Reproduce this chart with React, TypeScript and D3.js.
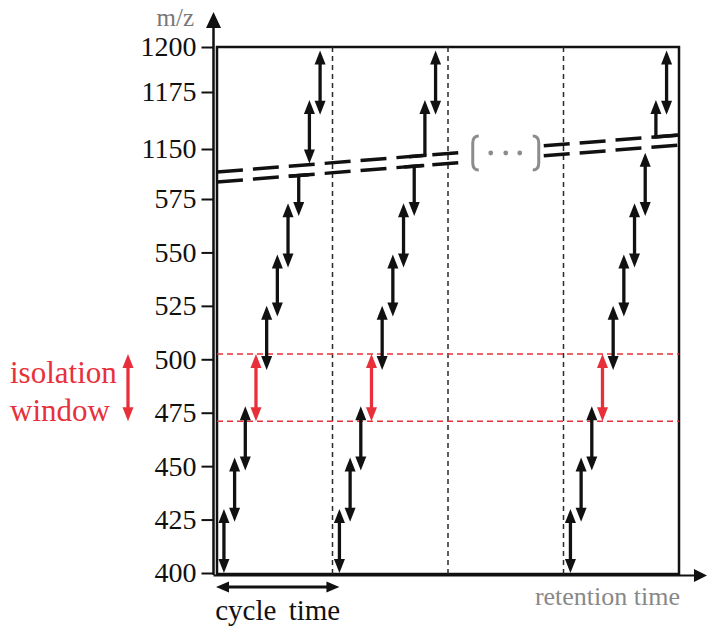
import * as d3 from "d3";
import React, { useEffect, useRef } from "react";

// y axis ticks (m/z), with a break between 575 and 1150
const yTicks = [400, 425, 450, 475, 500, 525, 550, 575, 1150, 1175, 1200];

// cycles shown (in cycle-time units); the third slot is left out ( … )
const cycleStarts = [0, 1, 3];
const cycleLines = [1, 2, 3];

// isolation windows below the break, m/z (last one runs up into the break)
const lowLo = [400, 424, 448, 471, 495, 520, 543, 567];
const lowHi = [430, 454, 478, 502.5, 525, 549, 573, null];
// windows above the break (first one starts at the break)
const highLo = [null, 1165];
const highHi = [1171.5, 1198];
const redIndex = 3;

// how each cycle's arrows meet the break
const breakTop = ["flat", "flat", "head"];
const breakBottom = ["head", "left", "right"];

export default function App() {
  const svgRef = useRef(null);

  useEffect(() => {
    const svg = d3.select(svgRef.current);
    svg.selectAll("*").remove();

    const serif = "'Liberation Serif', 'Times New Roman', serif";
    const red = "#e8303a";
    const ink = "#111";

    // scales
    const x = d3.scaleLinear().domain([0, 4]).range([217, 679]);
    const y = d3
      .scaleLinear()
      .domain([400, 575, 1150, 1175, 1200])
      .range([573, 199, 149, 92, 47]);

    const x0 = x(0);
    const x1 = x(4);
    const yTop = y(1200);
    const yBot = y(400) + 1;
    const step = 0.0925; // time between two windows
    const offset = 0.06;

    // axis break lines (slanted)
    const slope = -37 / (x1 - x0);
    const breakY = (px, off) => 172 + off + slope * (px - x0);

    const g = svg.append("g");

    // frame
    g.append("rect")
      .attr("x", x0)
      .attr("y", yTop)
      .attr("width", x1 - x0)
      .attr("height", yBot - yTop)
      .attr("fill", "none")
      .attr("stroke", ink)
      .attr("stroke-width", 2.5);

    // y axis with arrow
    const ax = x0 - 3.5;
    g.append("line")
      .attr("x1", ax)
      .attr("x2", ax)
      .attr("y1", yBot + 1)
      .attr("y2", 24)
      .attr("stroke", ink)
      .attr("stroke-width", 2.5);
    g.append("path")
      .attr("d", `M${ax},12L${ax - 7.5},28L${ax + 7.5},28Z`)
      .attr("fill", ink);

    // x axis with arrow
    g.append("line")
      .attr("x1", ax)
      .attr("x2", 698)
      .attr("y1", yBot + 1.5)
      .attr("y2", yBot + 1.5)
      .attr("stroke", ink)
      .attr("stroke-width", 1.8);
    g.append("path")
      .attr("d", `M707,${yBot + 1.5}L694,${yBot - 5}L694,${yBot + 8}Z`)
      .attr("fill", ink);

    const yAxis = d3
      .axisLeft(y)
      .tickValues(yTicks)
      .tickSize(12)
      .tickPadding(5)
      .tickFormat(d3.format("d"));
    const yAxisG = g.append("g").attr("transform", `translate(${ax},0)`).call(yAxis);
    yAxisG.select(".domain").remove();
    yAxisG.selectAll(".tick line").attr("stroke", ink).attr("stroke-width", 2);
    yAxisG
      .selectAll(".tick text")
      .attr("fill", ink)
      .style("font-family", serif)
      .style("font-size", "28px");

    // cycle boundaries
    cycleLines.forEach((c) => {
      g.append("line")
        .attr("x1", x(c))
        .attr("x2", x(c))
        .attr("y1", yTop)
        .attr("y2", yBot)
        .attr("stroke", "#2a2a2a")
        .attr("stroke-width", 1.5)
        .attr("stroke-dasharray", "5,4");
    });

    // isolation window guides
    [lowLo[redIndex], lowHi[redIndex]].forEach((v) => {
      g.append("line")
        .attr("x1", x0)
        .attr("x2", x1)
        .attr("y1", y(v))
        .attr("y2", y(v))
        .attr("stroke", red)
        .attr("stroke-width", 1.4)
        .attr("stroke-dasharray", "6,4");
    });

    // break lines, interrupted by the ( … ) mark
    const bx = x(2.5);
    const by = 153;
    [0, 10].forEach((off) => {
      [
        [x0, bx - 43],
        [bx + 38, x1],
      ].forEach(([a, b]) => {
        g.append("line")
          .attr("x1", a)
          .attr("x2", b)
          .attr("y1", breakY(a, off))
          .attr("y2", breakY(b, off))
          .attr("stroke", ink)
          .attr("stroke-width", 3.5)
          .attr("stroke-dasharray", "26,10");
      });
    });

    const gray = "#8c8c8c";
    [-1, 1].forEach((s) => {
      const px = bx + s * 33;
      g.append("path")
        .attr(
          "d",
          `M${px - s * 6},${by - 17}Q${px},${by - 17} ${px},${by - 10}L${px},${by + 10}Q${px},${by + 17} ${px - s * 6},${by + 17}`
        )
        .attr("fill", "none")
        .attr("stroke", gray)
        .attr("stroke-width", 3);
    });
    [-15, 0, 14].forEach((d) => {
      g.append("circle").attr("cx", bx + d).attr("cy", by).attr("r", 2.4).attr("fill", gray);
    });

    // vertical double arrow
    const hl = 14;
    const hw = 5.5;
    const vArrow = (px, ya, yb, headA, headB, color) => {
      g.append("line")
        .attr("x1", px)
        .attr("x2", px)
        .attr("y1", headA ? ya + hl - 2 : ya)
        .attr("y2", headB ? yb - hl + 2 : yb)
        .attr("stroke", color)
        .attr("stroke-width", 3.3);
      if (headA)
        g.append("path")
          .attr("d", `M${px},${ya}L${px - hw},${ya + hl}L${px + hw},${ya + hl}Z`)
          .attr("fill", color);
      if (headB)
        g.append("path")
          .attr("d", `M${px},${yb}L${px - hw},${yb - hl}L${px + hw},${yb - hl}Z`)
          .attr("fill", color);
    };
    const connector = (xa, xb, off) => {
      g.append("line")
        .attr("x1", xa)
        .attr("x2", xb)
        .attr("y1", breakY(xa, off))
        .attr("y2", breakY(xb, off))
        .attr("stroke", ink)
        .attr("stroke-width", 3.5);
    };

    cycleStarts.forEach((c, ci) => {
      lowLo.forEach((lo, j) => {
        const px = x(c + offset + j * step);
        const color = j === redIndex ? red : ink;
        const hi = lowHi[j];
        if (hi !== null) {
          vArrow(px, y(hi), y(lo), true, true, color);
        } else if (breakTop[ci] === "head") {
          vArrow(px, breakY(px, 10) + 5, y(lo), true, true, color);
        } else {
          vArrow(px, breakY(px, 10), y(lo), false, true, color);
          connector(px - 10, px + 10, 10);
        }
      });
      highHi.forEach((hi, k) => {
        const px = x(c + offset + (lowLo.length + k) * step);
        const lo = highLo[k];
        if (lo !== null) {
          vArrow(px, y(hi), y(lo), true, true, ink);
        } else if (breakBottom[ci] === "head") {
          vArrow(px, y(hi), breakY(px, 0) - 1, true, true, ink);
        } else {
          vArrow(px, y(hi), breakY(px, 0), true, false, ink);
          if (breakBottom[ci] === "left") connector(px - 16, px + 1.6, 0);
          else connector(px - 1.6, x1, 0);
        }
      });
    });

    // isolation window legend
    vArrow(128, y(lowHi[redIndex]), y(lowLo[redIndex]), true, true, red);
    ["isolation", "window"].forEach((t, i) => {
      g.append("text")
        .attr("x", 10)
        .attr("y", i === 0 ? 383 : 421)
        .attr("fill", red)
        .style("font-family", serif)
        .style("font-size", "31px")
        .text(t);
    });

    // axis titles
    g.append("text")
      .attr("x", 194)
      .attr("y", 26)
      .attr("text-anchor", "end")
      .attr("fill", "#777")
      .style("font-family", serif)
      .style("font-size", "25px")
      .text("m/z");

    g.append("text")
      .attr("x", x1 + 1)
      .attr("y", 605)
      .attr("text-anchor", "end")
      .attr("fill", "#888")
      .style("font-family", serif)
      .style("font-size", "26px")
      .text("retention time");

    // cycle time arrow
    const cy = 587;
    const ca = x(0) - 1;
    const cb = x(1 + offset);
    g.append("line")
      .attr("x1", ca + 11)
      .attr("x2", cb - 11)
      .attr("y1", cy)
      .attr("y2", cy)
      .attr("stroke", ink)
      .attr("stroke-width", 2.8);
    g.append("path").attr("d", `M${ca},${cy}L${ca + 13},${cy - 5.5}L${ca + 13},${cy + 5.5}Z`).attr("fill", ink);
    g.append("path").attr("d", `M${cb},${cy}L${cb - 13},${cy - 5.5}L${cb - 13},${cy + 5.5}Z`).attr("fill", ink);
    g.append("text")
      .attr("x", (ca + cb) / 2)
      .attr("y", 620)
      .attr("text-anchor", "middle")
      .attr("fill", ink)
      .attr("word-spacing", 5)
      .style("font-family", serif)
      .style("font-size", "29px")
      .text("cycle time");
  }, []);

  return (
    <svg
      ref={svgRef}
      width={707}
      height={626}
      style={{ position: "absolute", left: 0, top: 0, background: "#fff" }}
    ></svg>
  );
}
